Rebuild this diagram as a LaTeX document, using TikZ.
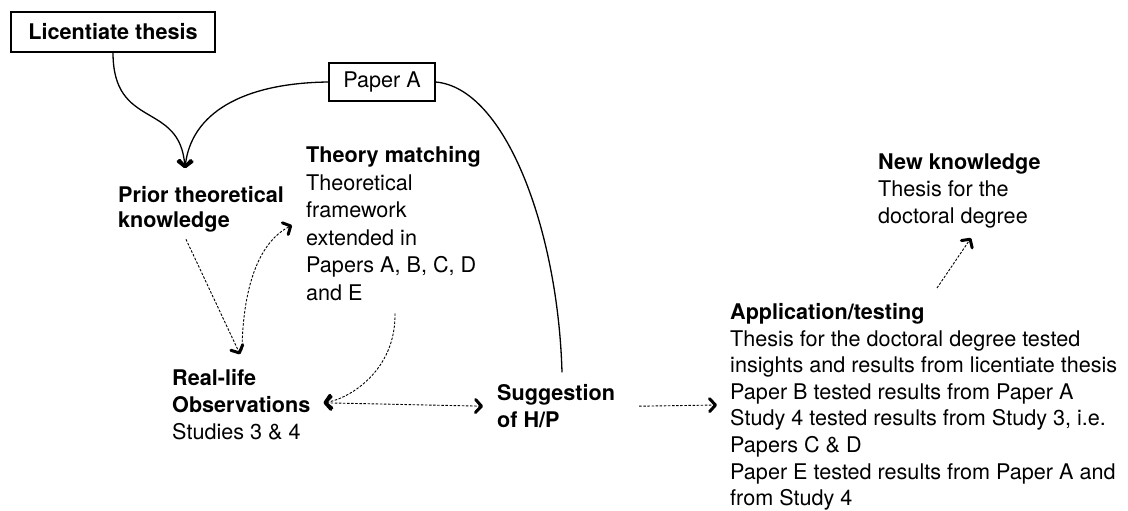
\documentclass[tikz,border=0pt]{standalone}
\usepackage{fontspec}
\setmainfont{TeX Gyre Heros}
\usetikzlibrary{arrows.meta}
\begin{document}
\begin{tikzpicture}[x=1pt,y=-1pt,
  txt/.style={anchor=north west, inner sep=0pt, align=left},
  fa/.style={font=\fontsize{21.6}{25}\selectfont\bfseries},
  fb/.style={font=\fontsize{21.6}{27.5}\selectfont},
  fc/.style={font=\fontsize{21.6}{27}\selectfont},
  fcb/.style={font=\fontsize{21.6}{27}\selectfont\bfseries},
  fd/.style={font=\fontsize{21.6}{26.6}\selectfont},
  box/.style={draw, line width=1.2pt, inner sep=0pt, font=\fontsize{21.6}{26}\selectfont},
  chev/.tip={Straight Barb[length=6pt,width=13pt,line width=3pt,round]},
  tipped/.style={-chev},
  bothtipped/.style={chev-chev},
  dsh/.style={dash pattern=on 2.5pt off 1.6pt, line width=0.9pt},
  sol/.style={line width=1.3pt}
]
\useasboundingbox (0,0) rectangle (1128,511);

\node[box, minimum width=204pt, minimum height=40pt, font=\fontsize{21.6}{26}\selectfont\bfseries] (lic) at (113,32) {Licentiate thesis};
\node[box, minimum width=106pt, minimum height=38pt] (paper) at (382,82) {Paper A};

\node[txt, fa] (prior) at (118,186.3) {Prior theoretical\\knowledge};
\node[txt, fb] (theory) at (306,146.3) {{\bfseries Theory matching}\\Theoretical\\framework\\extended in\\Papers A, B, C, D\\and E};
\node[txt, fc] (real) at (172,369.3) {{\bfseries Real-life}\\{\bfseries Observations}\\Studies 3 \& 4};
\node[txt, fcb] (sugg) at (497,384.3) {Suggestion\\of H/P};
\node[txt, fd] (app) at (730,303.3) {{\bfseries Application/testing}\\Thesis for the doctoral degree tested\\insights and results from licentiate thesis\\Paper B tested results from Paper A\\Study 4 tested results from Study 3, i.e.\\Papers C \& D\\Paper E tested results from Paper A and\\from Study 4};
\node[txt, fc] (newk) at (878,153.3) {{\bfseries New knowledge}\\Thesis for the\\doctoral degree};

% solid connectors
\draw[sol, tipped] (lic.south) .. controls +(0,78) and +(-5,-68) .. ([xshift=67pt,yshift=18pt]prior.north west);
\draw[sol, tipped] (paper.west) .. controls +(-86,1) and +(6,-55) .. ([xshift=67pt,yshift=18pt]prior.north west);
\draw[sol] (paper.east) .. controls +(70,6) and +(-4,-142) .. ([xshift=65pt,yshift=12pt]sugg.north west);

% dashed connectors
\draw[dsh, tipped] ([xshift=68pt,yshift=-53pt]prior.north west) -- ([xshift=68pt,yshift=15pt]real.north west);
\draw[dsh, tipped] ([xshift=70pt,yshift=19pt]real.north west) .. controls +(1,-70) and +(-30,15) .. ([xshift=-14pt,yshift=-79pt]theory.north west);
\draw[dsh, tipped] ([xshift=89pt,yshift=-167pt]theory.north west) .. controls +(1,57) and +(26,-4) .. ([xshift=13pt,yshift=2pt]real.east);
\draw[dsh, bothtipped] ([xshift=13pt,yshift=2pt]real.east) -- ([xshift=-14pt]sugg.west);
\draw[dsh, tipped] ([xshift=24pt]sugg.east) -- ([xshift=-13pt,yshift=-101.7pt]app.north west);
\draw[dsh, tipped] ([xshift=207pt,yshift=15.3pt]app.north west) -- ([xshift=93pt,yshift=-84.7pt]newk.north west);
\end{tikzpicture}
\end{document}
